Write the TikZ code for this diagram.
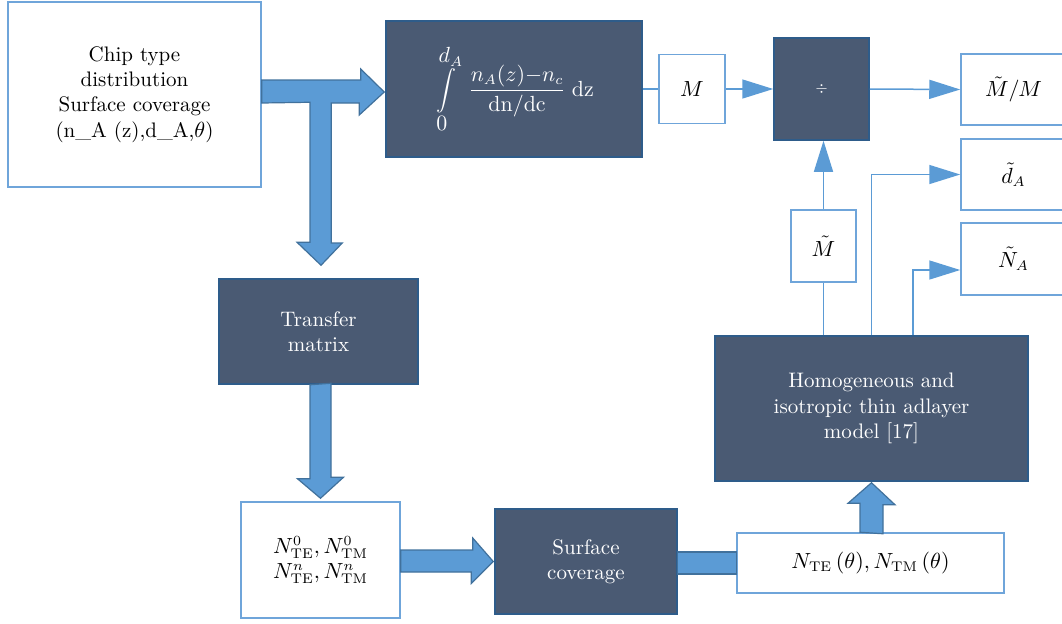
\documentclass[tikz,border=0pt]{standalone}
\usetikzlibrary{calc,arrows.meta}
\definecolor{darkfill}{HTML}{4A5A73}
\definecolor{darkline}{HTML}{2E5C8A}
\definecolor{lightline}{HTML}{6FA5DA}
\definecolor{arrowfill}{HTML}{5B9BD5}
\definecolor{arrowline}{HTML}{41719C}
\begin{document}
\begin{tikzpicture}[x=0.5pt,y=-0.5pt,
    font=\fontsize{10.5}{12.7}\selectfont,
    wbox/.style={draw=lightline,line width=0.75pt,fill=white,align=center,inner sep=0pt},
    dbox/.style={draw=darkline,line width=0.75pt,fill=darkfill,text=white,align=center,inner sep=0pt},
    barrow/.style={fill=arrowfill,draw=arrowline,line width=0.6pt,line join=miter},
    conn/.style={draw=arrowfill,line width=0.75pt},
    tri/.style={-{Triangle[length=15.5pt,width=9.5pt]}}]
        \useasboundingbox (0,0) rectangle (1062,623);
        %% Boxes
        \node[wbox,minimum width=126.5pt,minimum height=92.5pt] (chip) at (134.5,94.5)
            {Chip type\\distribution\\Surface coverage\\(n\_A (z),d\_A,$\theta$)};
        \node[dbox,minimum width=128pt,minimum height=68pt] (integ) at (514,89)
            {$\displaystyle\int\limits_{\textstyle 0}^{\textstyle d_A}\;\frac{n_A(z){-}n_c}{\mathrm{dn/dc}}\;\mathrm{dz}$};
        \node[wbox,minimum width=33pt,minimum height=34.5pt] (mbox) at (692,89) {$M$};
        \node[dbox,minimum width=47.5pt,minimum height=51pt] (divbox) at (821.5,89) {\scriptsize$\div$};
        \node[wbox,minimum width=52.5pt,minimum height=35.5pt] (ratio) at (1013.5,89.5) {$\tilde{M}/M$};
        \node[wbox,minimum width=52.5pt,minimum height=35.5pt] (dA) at (1013.5,174.5) {$\tilde{d}_A$};
        \node[wbox,minimum width=52.5pt,minimum height=36pt] (NA) at (1013.5,259) {$\tilde{N}_A$};
        \node[wbox,minimum width=32.5pt,minimum height=36pt] (Mt) at (823.5,246) {$\tilde{M}$};
        \node[dbox,minimum width=156.5pt,minimum height=72.5pt] (homog) at (871.5,408.5)
            {Homogeneous and\\isotropic thin adlayer\\model [17]};
        \node[dbox,minimum width=99.5pt,minimum height=52.5pt] (transfer) at (318.5,331.5) {Transfer\\matrix};
        \node[wbox,minimum width=79.5pt,minimum height=58pt] (nzero) at (320.5,560)
            {$N_{\mathrm{TE}}^{0}, N_{\mathrm{TM}}^{0}$\\$N_{\mathrm{TE}}^{n}, N_{\mathrm{TM}}^{n}$};
        \node[dbox,minimum width=91pt,minimum height=52.5pt] (surf) at (586,561.5) {Surface\\coverage};
        \node[wbox,minimum width=133.5pt,minimum height=30pt] (nte) at (870.5,563)
            {$N_{\mathrm{TE}}\,(\theta), N_{\mathrm{TM}}\,(\theta)$};
        %% Block arrows
        \filldraw[barrow] ($(chip.east)+(0,-14.5)$) -- ++(99,0) -- ++(0,-11) -- ($(integ.west)+(-1,3)$)
            -- ++(-25,23) -- ++(0,-12) -- ++(-28,0) -- ++(0,140) -- ++(11,0) -- ($(transfer.north)+(2.5,-13)$)
            -- ++(-24,-23) -- ++(13,0) -- ++(0,-140) -- ($(chip.east)+(0,8.5)$) -- cycle;
        \filldraw[barrow] ($(transfer.south -| nzero.north)+(-10.5,0)$) -- ++(0,94) -- ++(-12.5,0)
            -- ($(nzero.north)+(0,-3)$) -- ++(23,-21) -- ++(-12.5,0) -- ++(0,-94) -- cycle;
        \filldraw[barrow] ($(nzero.east)+(0,-10)$) -- ++(72,0) -- ++(0,-12) -- ($(surf.west)+(-1,0)$)
            -- ++(-22,22) -- ++(0,-11.5) -- ($(nzero.east)+(0,12)$) -- cycle;
        \filldraw[barrow] ($(surf.east)+(0,-9.5)$) rectangle ($(nte.west)+(0,11)$);
        \filldraw[barrow] ($(nte.north)+(-10.5,0)$) -- ++(0,-29) -- ++(-12,0) -- ($(homog.south)+(0,1)$)
            -- ++(23.5,22) -- ++(-12,0) -- ++(0,29) -- cycle;
        %% Thin connectors
        \draw[conn] (integ.east) -- (mbox.west);
        \draw[conn,tri] (mbox.east) -- (divbox.west);
        \draw[conn,tri] (divbox.east) -- (ratio.west);
        \draw[conn,tri] (Mt.north) -- (Mt.north |- divbox.south);
        \draw[conn] (Mt.south |- homog.north) -- (Mt.south);
        \draw[conn,tri] (homog.north) |- (dA.west);
        \draw[conn,tri] ($(homog.north)+(41.5,0)$) |- ($(NA.west)+(0,11)$);
\end{tikzpicture}
\end{document}
